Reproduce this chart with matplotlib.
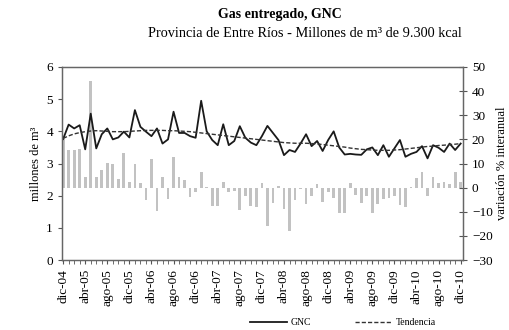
import matplotlib
matplotlib.use("Agg")
import matplotlib.pyplot as plt
import numpy as np

plt.rcParams['font.family'] = ['Liberation Serif', 'DejaVu Serif']

# meses: dic-04 .. dic-10
meses_nombres = ['ene', 'feb', 'mar', 'abr', 'may', 'jun', 'jul', 'ago', 'sep', 'oct', 'nov', 'dic']
etiquetas = []
for k in range(73):
    m = (11 + k) % 12
    a = 4 + (11 + k) // 12
    etiquetas.append(f"{meses_nombres[m]}-{a:02d}")

# GNC entregado (millones de m3)
gnc = [3.76, 4.21, 4.09, 4.19, 3.44, 4.55, 3.47, 3.91, 4.09, 3.75, 3.81, 3.99,
       3.81, 4.66, 4.14, 3.99, 3.85, 4.09, 3.62, 3.75, 4.61, 3.95, 3.95, 3.85,
       3.80, 4.95, 4.00, 3.73, 3.57, 4.22, 3.57, 3.70, 4.16, 3.80, 3.65, 3.57,
       3.85, 4.17, 3.95, 3.73, 3.26, 3.42, 3.36, 3.62, 3.91, 3.54, 3.70, 3.39,
       3.73, 4.00, 3.50, 3.28, 3.30, 3.28, 3.27, 3.44, 3.50, 3.26, 3.57, 3.21,
       3.47, 3.73, 3.21, 3.30, 3.36, 3.54, 3.16, 3.57, 3.49, 3.36, 3.62, 3.42,
       3.62]

# tendencia
tendencia = [3.78, 3.86, 3.92, 3.96, 3.99, 4.01, 4.02, 4.01, 4.00, 3.99, 3.99, 3.99,
             4.00, 4.01, 4.02, 4.03, 4.03, 4.03, 4.03, 4.02, 4.02, 4.01, 4.00, 3.99,
             3.97, 3.95, 3.93, 3.91, 3.89, 3.87, 3.85, 3.83, 3.81, 3.79, 3.77, 3.75,
             3.73, 3.71, 3.69, 3.67, 3.65, 3.64, 3.63, 3.63, 3.63, 3.62, 3.61, 3.59,
             3.57, 3.55, 3.53, 3.51, 3.48, 3.46, 3.44, 3.43, 3.42, 3.41, 3.41, 3.41,
             3.42, 3.43, 3.45, 3.47, 3.49, 3.51, 3.53, 3.54, 3.56, 3.57, 3.59, 3.60,
             3.62]

# variacion % interanual
variacion = [20.0, 15.8, 15.8, 16.0, 4.3, 44.0, 4.3, 7.5, 10.2, 10.0, 3.6, 14.4,
             2.2, 10.0, 1.9, -5.0, 11.9, -9.5, 4.3, -4.6, 12.7, 4.4, 3.3, -3.9,
             -1.9, 6.4, 0.4, -7.5, -7.5, 2.2, -1.9, -1.5, -9.4, -3.3, -7.5, -8.0,
             2.0, -15.8, -6.2, 0.5, -9.0, -18.0, -5.3, -0.6, -6.6, -3.3, 1.7, -6.1,
             -1.9, -4.3, -10.3, -10.5, 2.0, -3.0, -6.5, -3.3, -10.5, -6.6, -4.7, -4.3,
             -3.3, -7.0, -8.0, 0.3, 4.0, 6.4, -3.3, 4.4, 1.9, 2.2, 1.7, 6.6,
             2.2]

x = np.arange(len(gnc))

fig = plt.figure(figsize=(5.1, 3.3), dpi=100)
ax1 = fig.add_axes([0.1216, 0.212, 0.786, 0.585])
ax2 = ax1.twinx()

# barras en el eje secundario, detras de las lineas
ax2.bar(x, variacion, width=0.5, color='#c2c2c2', zorder=1)
ax2.set_ylim(-30, 50)
ax2.set_yticks(range(-30, 51, 10))
ax1.set_zorder(ax2.get_zorder() + 1)
ax1.patch.set_visible(False)

l1, = ax1.plot(x, gnc, color='#1a1a1a', lw=1.3, label='GNC')
l2, = ax1.plot(x, tendencia, color='#333333', lw=1.0, ls=(0, (3, 1.5)), label='Tendencia')

ax1.set_ylim(0, 6)
ax1.set_yticks(range(0, 7))
ax1.set_xlim(-0.2, 72.4)
ax1.set_xticks(x, minor=True)
ax1.set_xticks(x[::4])
ax1.set_xticklabels(etiquetas[::4], rotation=90, fontsize=9.5)
ax1.tick_params(axis='x', which='both', length=3, color='#555555')
ax1.tick_params(axis='y', labelsize=9.5, length=3, color='#555555')
ax2.tick_params(axis='y', labelsize=9.5, length=6, direction='inout', color='#555555')

for ax in (ax1, ax2):
    for s in ax.spines.values():
        s.set_color('#666666')
        s.set_linewidth(0.9)

ax1.set_ylabel('millones de m³', fontsize=9, labelpad=3)
ax2.set_ylabel('variación % interanual', fontsize=9, labelpad=2)

fig.text(0.548, 0.955, 'Gas entregado, GNC', ha='center', va='center',
         fontsize=10, fontweight='bold')
fig.text(0.597, 0.898, 'Provincia de Entre Ríos - Millones de m³ de 9.300 kcal',
         ha='center', va='center', fontsize=10.3)

fig.legend(handles=[l1, l2], loc='center', bbox_to_anchor=(0.672, 0.022), ncol=2,
           frameon=False, fontsize=7, handlelength=3.8, columnspacing=4.5,
           handletextpad=0.4)

fig.savefig('out.png', dpi=100)
plt.close(fig)
